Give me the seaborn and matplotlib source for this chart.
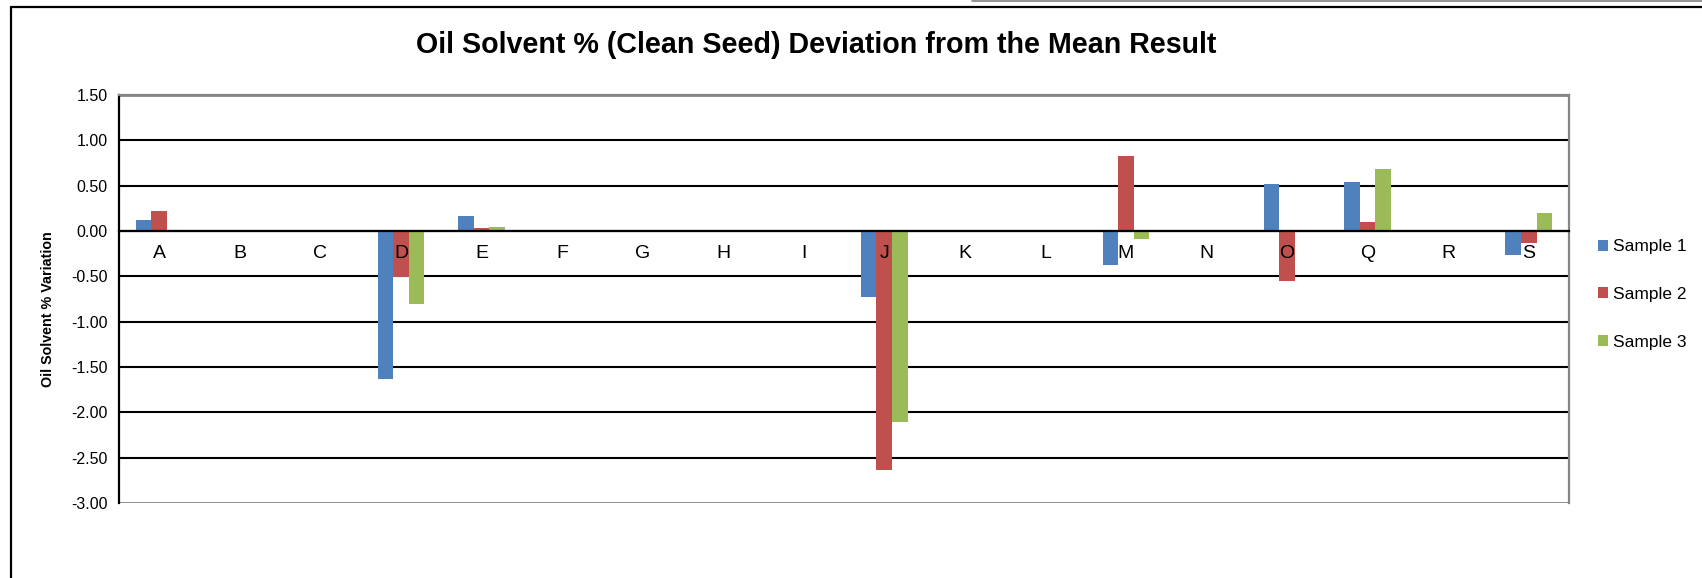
import numpy as np
import pandas as pd
import matplotlib.pyplot as plt
import seaborn as sns
from matplotlib.lines import Line2D

# Data
labs = ["A", "B", "C", "D", "E", "F", "G", "H", "I", "J", "K", "L", "M", "N", "O", "Q", "R", "S"]
sample1 = [0.12, np.nan, np.nan, -1.63, 0.16, np.nan, np.nan, np.nan, np.nan, -0.73,
           np.nan, np.nan, -0.37, np.nan, 0.52, 0.54, np.nan, -0.27]
sample2 = [0.22, np.nan, np.nan, -0.51, 0.03, np.nan, np.nan, np.nan, np.nan, -2.64,
           np.nan, np.nan, 0.83, np.nan, -0.55, 0.10, np.nan, -0.13]
sample3 = [-0.01, np.nan, np.nan, -0.80, 0.04, np.nan, np.nan, np.nan, np.nan, -2.11,
           np.nan, np.nan, -0.09, np.nan, np.nan, 0.68, np.nan, 0.20]
series = ["Sample 1", "Sample 2", "Sample 3"]
yticks = [1.5, 1.0, 0.5, 0.0, -0.5, -1.0, -1.5, -2.0, -2.5, -3.0]

df = pd.DataFrame({"Lab": labs * 3,
                   "Sample": np.repeat(series, len(labs)),
                   "Value": sample1 + sample2 + sample3})

sns.set_style("white")
plt.rcParams["font.family"] = ["Liberation Sans", "DejaVu Sans"]
plt.rcParams["text.color"] = "black"
plt.rcParams["xtick.color"] = "black"
plt.rcParams["ytick.color"] = "black"
plt.rcParams["axes.labelcolor"] = "black"

fig = plt.figure(figsize=(17.02, 5.78), dpi=100)
ax = fig.add_axes([119 / 1702, 1 - 503 / 578, 1450 / 1702, 408 / 578])

sns.barplot(data=df, x="Lab", y="Value", hue="Sample", order=labs, hue_order=series,
            palette=["#4F81BD", "#C0504D", "#9BBB59"], saturation=1, width=0.58, gap=0,
            linewidth=0, ax=ax, legend=True)

ax.set_ylim(-3.0, 1.5)
ax.set_xlim(-0.5, len(labs) - 0.5)
ax.set_yticks(yticks)
ax.set_yticklabels([f"{t:.2f}" for t in yticks], fontsize=11.5)
ax.tick_params(axis="y", direction="out", length=5, width=1.2, color="black", pad=3)

# x axis sits on the zero line, boundary ticks between labs
ax.spines["bottom"].set_position(("data", 0))
ax.spines["bottom"].set_color("black")
ax.spines["bottom"].set_linewidth(1.6)
ax.set_xticks(np.arange(-0.5, len(labs), 1.0))
ax.set_xticklabels([])
ax.tick_params(axis="x", which="major", direction="out", length=5, width=1.2, color="black")
ax.set_xlabel("")

# lab names are drawn on top of the bars, as in the original
for i, lab in enumerate(labs):
    ax.annotate(lab, xy=(i, 0), xytext=(0, -23), textcoords="offset pixels",
                ha="center", va="center", fontsize=14, zorder=5)

ax.spines["left"].set_color("black")
ax.spines["left"].set_linewidth(1.6)
for s in ["top", "right"]:
    ax.spines[s].set_visible(True)
    ax.spines[s].set_color("#868686")
    ax.spines[s].set_linewidth(1.6)

ax.grid(axis="y", color="black", linewidth=1.5)
ax.set_axisbelow(True)
for gl, t in zip(ax.yaxis.get_gridlines(), yticks):
    if t in (1.5, -3.0):
        gl.set_color("#868686")
        gl.set_linewidth(2)

ax.set_ylabel("Oil Solvent % Variation", fontsize=10.3, fontweight="bold")
ax.yaxis.set_label_coords(-0.044, 0.476)

fig.text(816 / 1702, 1 - 45 / 578, "Oil Solvent % (Clean Seed) Deviation from the Mean Result",
         ha="center", va="center", fontsize=20.6, fontweight="bold")

ax.legend(title=None, frameon=False, loc="upper left", bbox_to_anchor=(1.015, 0.663),
          fontsize=12.5, handlelength=0.6, handleheight=0.6, handletextpad=0.3,
          labelspacing=1.88, borderaxespad=0)

# chart frame
fig.add_artist(Line2D([11 / 1702, 11 / 1702], [0, 1 - 7 / 578], color="black", lw=1.6))
fig.add_artist(Line2D([11 / 1702, 1], [1 - 7 / 578, 1 - 7 / 578], color="black", lw=1.6))
fig.add_artist(Line2D([972 / 1702, 1], [1 - 0.7 / 578, 1 - 0.7 / 578], color="#808080", lw=1.2))

fig.savefig("out.png", dpi=100)
